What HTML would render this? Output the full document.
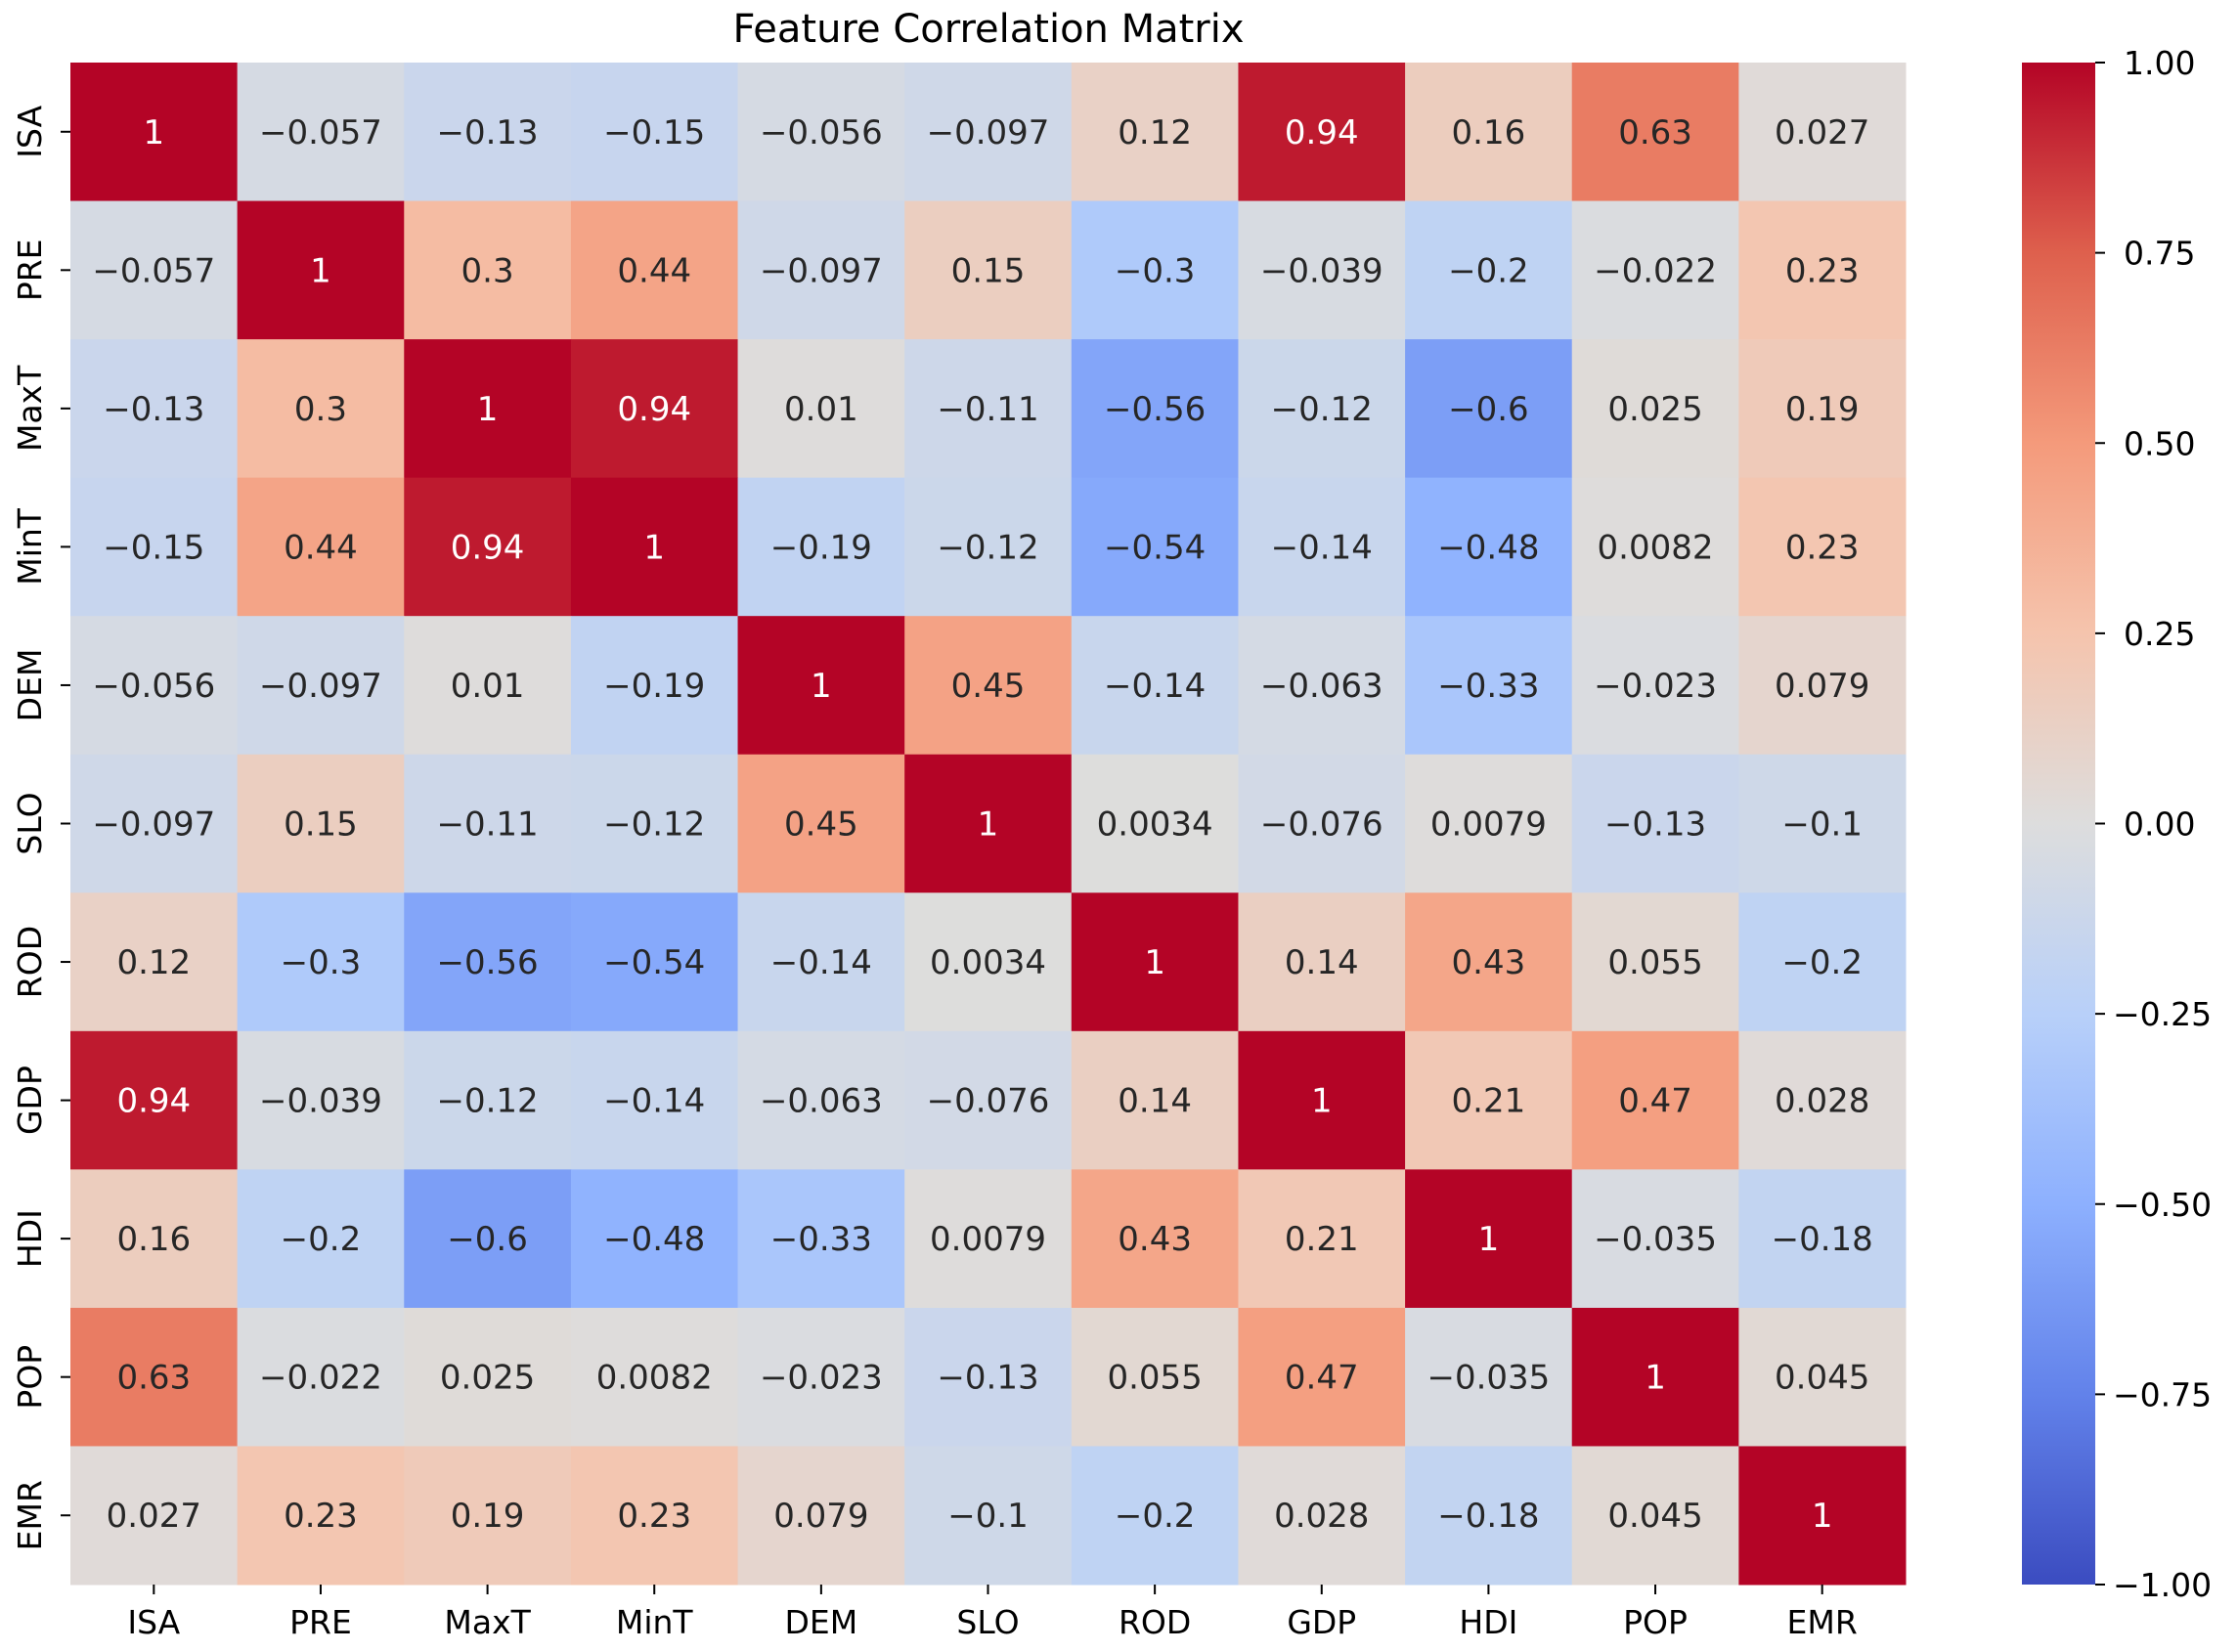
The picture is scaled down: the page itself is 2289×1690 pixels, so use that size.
<!DOCTYPE html>
<html><head><meta charset="utf-8"><style>
body{margin:0;background:#fff;}
svg{display:block;font-family:"DejaVu Sans","Liberation Sans",sans-serif;}
</style></head><body>
<svg id="chart" width="2289" height="1690" viewBox="0 0 2289 1690" xmlns="http://www.w3.org/2000/svg">
<text x="1011" y="43" font-size="40" text-anchor="middle" fill="#000">Feature Correlation Matrix</text>
<g id="cells"></g><g id="xt"></g><g id="yt"></g><g id="cb"></g>
</svg>
<script>
const labels = ["ISA","PRE","MaxT","MinT","DEM","SLO","ROD","GDP","HDI","POP","EMR"];
const row0 = [1,-0.057,-0.13,-0.15,-0.056,-0.097,0.12,0.94,0.16,0.63,0.027];
const row1 = [-0.057,1,0.3,0.44,-0.097,0.15,-0.3,-0.039,-0.2,-0.022,0.23];
const row2 = [-0.13,0.3,1,0.94,0.01,-0.11,-0.56,-0.12,-0.6,0.025,0.19];
const row3 = [-0.15,0.44,0.94,1,-0.19,-0.12,-0.54,-0.14,-0.48,0.0082,0.23];
const row4 = [-0.056,-0.097,0.01,-0.19,1,0.45,-0.14,-0.063,-0.33,-0.023,0.079];
const row5 = [-0.097,0.15,-0.11,-0.12,0.45,1,0.0034,-0.076,0.0079,-0.13,-0.1];
const row6 = [0.12,-0.3,-0.56,-0.54,-0.14,0.0034,1,0.14,0.43,0.055,-0.2];
const row7 = [0.94,-0.039,-0.12,-0.14,-0.063,-0.076,0.14,1,0.21,0.47,0.028];
const row8 = [0.16,-0.2,-0.6,-0.48,-0.33,0.0079,0.43,0.21,1,-0.035,-0.18];
const row9 = [0.63,-0.022,0.025,0.0082,-0.023,-0.13,0.055,0.47,-0.035,1,0.045];
const row10 = [0.027,0.23,0.19,0.23,0.079,-0.1,-0.2,0.028,-0.18,0.045,1];
const cbTicks = [1,0.75,0.5,0.25,0,-0.25,-0.5,-0.75,-1];
const cbTickLabels = ["1.00","0.75","0.50","0.25","0.00","\u22120.25","\u22120.50","\u22120.75","\u22121.00"];
const matrix = [row0,row1,row2,row3,row4,row5,row6,row7,row8,row9,row10];

const NS="http://www.w3.org/2000/svg";
const L=72,T=64,R=1949,B=1621;
const n=labels.length, cw=(R-L)/n, ch=(B-T)/n;
const xPos=i=>L+i*cw, yPos=i=>T+i*ch;
const stops=[[59,76,192],[98,130,234],[141,176,254],[184,208,249],[221,221,221],[245,196,173],[244,154,123],[222,96,77],[180,4,38]];
function cmap(v){let t=(Math.max(-1,Math.min(1,v))+1)/2*8;let i=Math.min(7,Math.floor(t));let f=t-i;
 return stops[i].map((c,k)=>Math.round(c+(stops[i+1][k]-c)*f));}
function fmt(v){let s=(v===1)?"1":String(Number(v.toPrecision(2)));return s.replace("-","\u2212");}
function mk(tag,attrs,parent){const e=document.createElementNS(NS,tag);for(const k in attrs)e.setAttribute(k,attrs[k]);parent.appendChild(e);return e;}
const cells=document.getElementById('cells');
matrix.forEach((row,r)=>row.forEach((v,c)=>{
 const col=cmap(v);
 const rc=mk('rect',{x:xPos(c),y:yPos(r),width:cw+0.5,height:ch+0.5,fill:`rgb(${col})`},cells);
 
 
 const lum=(0.2126*col[0]+0.7152*col[1]+0.0722*col[2])/255;
 const tx=mk('text',{x:xPos(c)+cw/2,y:yPos(r)+ch/2+12,'font-size':34,'text-anchor':'middle',fill:lum>0.408?'#262626':'#fff'},cells);
 tx.textContent=fmt(v);
 
 
}));
const xt=document.getElementById('xt'), yt=document.getElementById('yt');
labels.forEach((lab,i)=>{
 const cx=xPos(i)+cw/2;
 mk('line',{x1:cx,x2:cx,y1:B,y2:B+10,stroke:'#000','stroke-width':2},xt);
 const t=mk('text',{x:cx,y:B+50,'font-size':33,'text-anchor':'middle',fill:'#000'},xt);
 t.textContent=lab;
 
 
 const cy=yPos(i)+ch/2;
 mk('line',{x1:L-10,x2:L,y1:cy,y2:cy,stroke:'#000','stroke-width':2},yt);
 const u=mk('text',{x:0,y:0,'font-size':33,'text-anchor':'middle',fill:'#000',transform:`translate(42,${cy}) rotate(-90)`},yt);
 u.textContent=lab;
 
 
});
const cb=document.getElementById('cb');
const CX0=2068,CX1=2143;
const defs=mk('defs',{},cb);
const g=mk('linearGradient',{id:'cg',x1:0,y1:0,x2:0,y2:1},defs);
for(let k=0;k<=8;k++){const col=stops[8-k];mk('stop',{offset:k/8,'stop-color':`rgb(${col})`},g);}
const bar=mk('rect',{x:CX0,y:T,width:CX1-CX0,height:B-T,fill:'url(#cg)'},cb);


const cbY=v=>T+(1-v)/2*(B-T);
cbTicks.forEach((v,i)=>{
 const y=cbY(v);
 mk('line',{x1:CX1,x2:CX1+10,y1:y,y2:y,stroke:'#000','stroke-width':2},cb);
 const t=mk('text',{x:CX1+(v<0?18:29),y:y+12,'font-size':33,fill:'#000'},cb);
 t.textContent=cbTickLabels[i];
 
 
});
</script>
</body></html>
